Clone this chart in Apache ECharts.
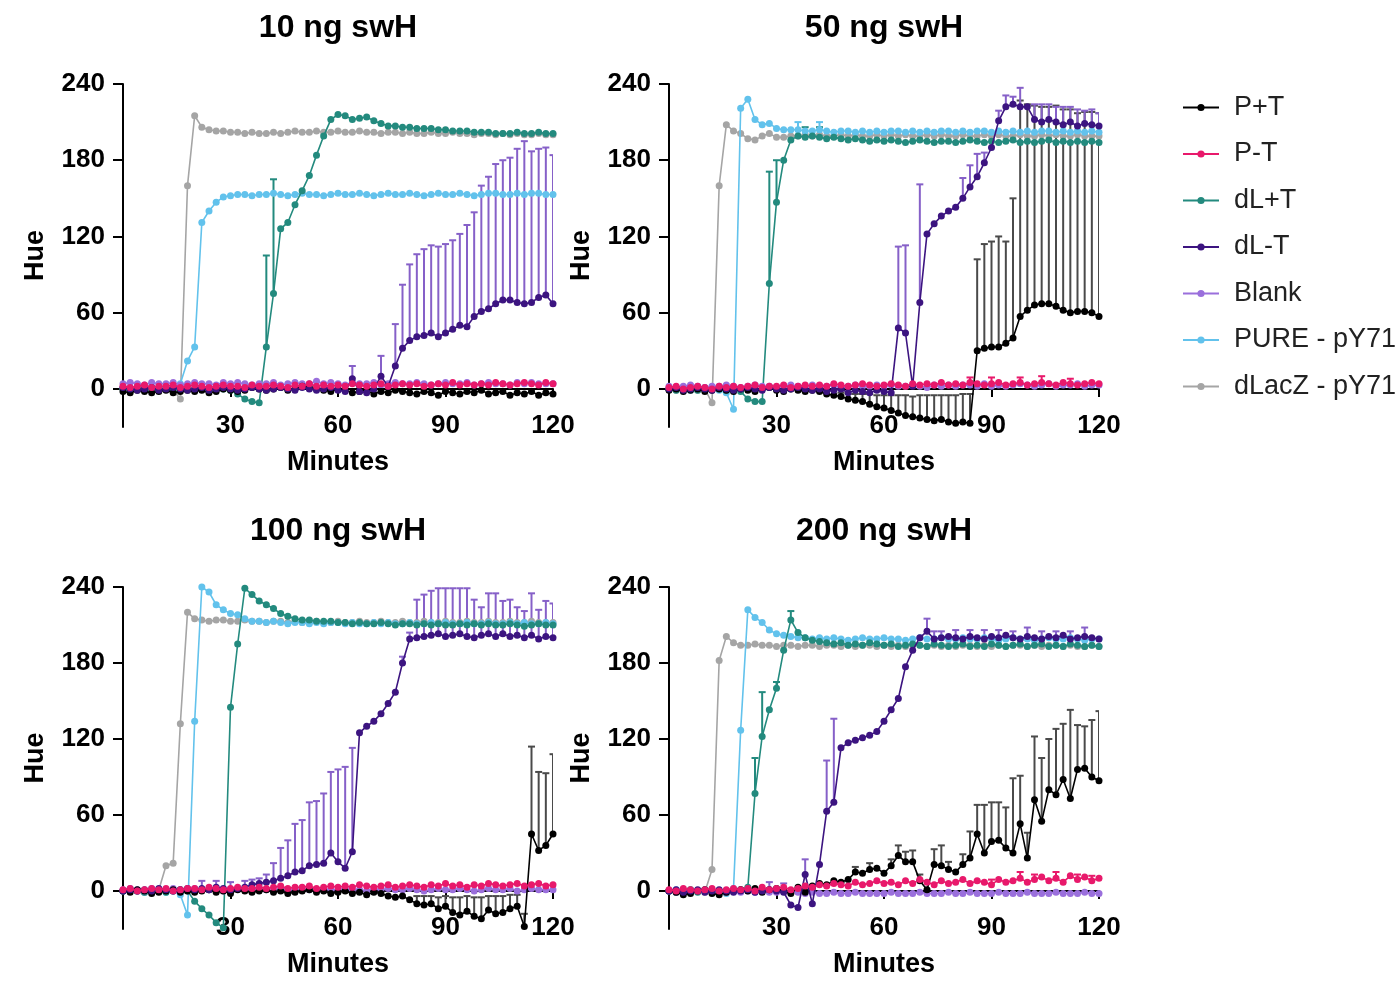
<!DOCTYPE html>
<html><head><meta charset="utf-8">
<script src="https://cdn.jsdelivr.net/npm/echarts@6/dist/echarts.min.js"></script>
<style>html,body{margin:0;padding:0;background:#fff}#c{width:1398px;height:985px}</style>
</head><body><div id="c"></div><script>
// ---------- data ----------
const minutes = [0,2,4,6,8,10,12,14,16,18,20,22,24,26,28,30,32,34,36,38,40,42,44,46,48,50,52,54,56,58,60,62,64,66,68,70,72,74,76,78,80,82,84,86,88,90,92,94,96,98,100,102,104,106,108,110,112,114,116,118,120];
const seriesNames = ['P+T','P-T','dL+T','dL-T','Blank','PURE - pY71','dLacZ - pY71'];
const panelTitles = ['10 ng swH','50 ng swH','100 ng swH','200 ng swH'];
const yTicks = [0,60,120,180,240];
const xTicks = [30,60,90,120];

// 10 ng
const p10_PpT = [-2,-3,-1,-2,-3,-2,-1,-3,-2,-1, -2,-1,-3,-2,0,-1,-2,-1,1,0, -1,0,1,-1,0,2,1,0,-1,-2, 0,-1,-3,-2,-1,-4,-2,-3,-1,-2, -3,-4,-2,-3,-5,-2,-3,-4,-2,-3, -1,-4,-3,-2,-5,-3,-4,-2,-5,-3, -4];
const p10_PmT = [2,1,2,3,1,2,2,3,1,2, 3,2,1,2,3,2,2,1,3,2, 2,3,2,1,3,2,4,2,3,2, 3,2,4,3,2,3,4,2,3,4, 3,4,2,3,4,3,5,3,4,3, 4,3,5,4,3,4,5,4,3,5, 4];
const p10_dLpT = [0,-1,0,1,-1,0,0,-1,1,0, 0,1,-1,0,0,-1,-4,-8,-10,-11, 33,75,126,131,145,156,168,184,199,212, 216,215,212,213,214,211,209,207,207,206, 206,205,205,205,204,204,203,203,203,202, 202,202,201,201,201,202,201,201,202,201, 201];
const p10_dLmT = [1,0,-1,0,1,-1,0,1,0,-1, 0,1,-1,0,1,0,-1,0,1,0, -1,0,1,0,-1,1,0,-1,0,1, -1,-2,8,-2,-3,0,10,2,18,32, 38,41,42,44,41,44,47,50,49,57, 61,63,67,70,70,68,67,68,72,74, 67];
const p10_Blank = [4,5,4,3,5,4,4,5,3,4, 5,4,4,3,5,4,5,4,3,4, 4,5,3,4,5,4,4,6,4,5, 4,3,5,4,4,5,3,4,5,4, 4,5,4,3,4,5,4,4,5,3, 4,5,4,4,3,5,4,5,4,4, 4];
const p10_Pure = [1,0,1,2,1,0,1,1,4,22, 33,131,140,147,151,152,153,153,152,153, 153,154,153,152,153,154,153,153,152,153, 154,153,153,154,153,152,153,154,153,153, 154,153,152,153,154,153,153,154,153,152, 153,154,154,153,153,154,153,154,154,153, 153];
const p10_dLacZ = [0,1,0,-1,0,1,0,-1,-8,160, 215,206,204,203,203,202,202,201,202,201, 201,202,201,202,203,202,202,203,202,202, 203,202,202,203,202,202,201,202,202,201, 202,201,201,202,201,201,202,201,201,200, 201,201,200,201,200,201,200,200,201,200, 200];
const p10_dLpT_err = [[40,72],[42,90]];
const p10_dLmT_err = [[64,10],[72,16],[76,33],[78,50],[80,60],[82,65],[84,68],[86,69],[88,71],[90,70],[92,70],[94,72],[96,80],[98,82],[100,99],[102,104],[104,110],[106,110],[108,112],[110,121],[112,128],[114,119],[116,117],[118,116],[120,117]];

// 50 ng
const p50_PpT = [-1,0,-2,-1,0,-2,-1,0,-1,-2, 0,-1,-2,0,1,-1,-2,0,-1,-2, -1,-2,-4,-5,-6,-8,-9,-10,-12,-14, -15,-17,-19,-21,-22,-23,-24,-25,-24,-26, -27,-26,-27,30,32,33,33,36,40,57, 62,66,67,67,65,62,60,61,61,60, 57];
const p50_PmT = [1,2,0,1,2,1,0,2,1,2, 1,2,3,1,2,2,3,1,2,3, 2,3,2,4,3,2,3,4,3,2, 3,4,3,2,4,3,4,3,5,3, 4,3,5,4,3,4,5,3,4,5, 3,4,5,4,3,5,4,3,4,5, 4];
const p50_dLpT = [0,-1,1,0,-1,0,1,0,-1,0, -2,-8,-10,-10,83,147,180,196,199,198, 199,198,197,198,197,196,197,196,195,196, 195,196,195,194,195,196,195,194,195,195, 194,195,196,195,194,195,194,195,196,194, 195,194,195,196,194,195,194,195,194,195, 194];
const p50_dLmT = [0,1,-1,0,1,0,-1,1,0,-1, 0,1,0,-1,1,0,-1,0,1,0, -1,0,-2,-1,0,-3,-1,-2,-3,-1, -2,-3,48,44,2,68,122,130,136,140, 143,150,159,167,178,190,211,222,224,222, 222,212,210,212,210,208,210,207,209,208, 207];
const p50_Blank = [2,1,2,3,2,1,2,2,3,2, 1,2,3,2,2,1,2,3,2,2, 3,2,2,3,1,2,3,2,2,3, 2,3,2,2,3,2,1,3,2,3, 2,3,3,2,4,2,3,2,3,4, 3,2,3,4,2,3,3,4,2,3, 3];
const p50_Pure = [0,1,0,-1,0,1,0,-1,-3,-16, 221,228,212,208,209,205,204,204,204,203, 203,204,203,202,203,203,202,203,202,203, 202,203,203,202,203,202,203,202,203,203, 202,203,202,203,203,202,203,202,203,202, 203,202,203,203,202,203,202,203,202,203, 202];
const p50_dLacZ = [0,-1,1,0,-1,0,-11,160,208,203, 201,197,196,199,201,198,198,199,199,200, 199,200,199,199,200,199,200,199,199,200, 199,200,199,200,199,199,200,199,200,199, 199,200,199,199,200,199,200,199,199,200, 199,199,200,199,200,199,199,200,199,199, 199];
const p50_PpT_err = [[48,3],[50,4],[52,5],[54,6],[56,8],[58,9],[60,10],[62,12],[64,14],[66,16],[68,16],[70,18],[72,19],[74,20],[76,19],[78,21],[80,22],[82,22],[84,23],[86,72],[88,82],[90,83],[92,87],[94,80],[96,110],[98,170],[100,162],[102,157],[104,155],[106,155],[108,158],[110,158],[112,160],[114,156],[116,157],[118,158],[120,160]];
const p50_PmT_err = [[84,4],[90,5],[98,4],[104,5],[112,4]];
const p50_dLpT_err = [[28,88],[30,33],[38,8],[42,8]];
const p50_dLmT_err = [[64,64],[66,69],[70,93],[82,16],[84,17],[86,18],[88,8],[92,8],[94,9],[96,6],[98,15],[102,12],[104,14],[106,12],[108,12],[110,14],[112,12],[114,13],[116,10],[118,12],[120,10]];
const p50_Pure_err = [[36,6],[42,6]];

// 100 ng
const p100_PpT = [0,-1,1,0,-2,-1,0,1,-1,0, -1,0,1,-1,0,-2,1,0,-1,0, 1,-1,0,-2,-1,0,1,-1,0,-2, -1,0,-2,-1,-3,-1,-2,-4,-5,-4, -7,-10,-11,-10,-14,-12,-17,-19,-16,-20, -22,-15,-18,-17,-14,-12,-28,45,32,36, 45];
const p100_PmT = [1,2,0,1,2,1,2,0,1,2, 2,1,3,2,1,2,3,2,2,3, 2,3,4,2,3,3,4,2,3,4, 3,4,3,5,4,3,4,5,3,4, 5,4,3,5,4,6,4,5,3,5, 4,6,5,4,5,6,4,5,6,4, 5];
const p100_dLpT = [0,1,0,-1,0,1,-1,0,1,0, -8,-14,-19,-25,-29,145,195,239,234,229, 226,223,219,217,215,214,214,213,213,213, 212,212,211,212,211,211,212,211,210,211, 211,210,211,210,211,210,210,211,210,211, 210,211,210,210,211,210,209,210,211,210, 210];
const p100_dLmT = [0,1,0,1,0,2,1,0,1,2, 1,2,1,3,2,1,2,3,5,6, 7,8,10,12,15,16,20,21,22,30, 23,18,31,125,130,134,140,148,157,180, 199,200,201,202,203,201,202,203,201,200, 202,203,201,203,201,202,200,202,199,201, 200];
const p100_Blank = [1,2,1,0,2,1,1,2,0,1, 2,1,1,2,0,1,2,1,1,2, 1,0,2,1,1,2,1,0,2,1, 1,2,1,1,0,2,1,2,1,1, 2,1,0,1,2,1,1,2,1,0, 1,2,1,1,2,0,1,2,1,1, 1];
const p100_Pure = [0,1,0,-1,1,0,-1,0,-3,-19, 134,240,236,226,222,219,218,215,213,213, 212,213,212,211,212,212,211,212,211,212, 212,211,212,211,211,212,211,212,211,211, 212,211,211,212,211,212,211,211,212,211, 211,212,211,211,212,211,212,211,211,212, 211];
const p100_dLacZ = [0,1,0,-1,0,1,20,22,132,220, 215,214,213,214,214,213,213,214,213,213, 212,213,213,212,213,212,212,213,212,212, 213,212,212,213,212,212,213,212,212,213, 212,212,213,212,212,213,212,212,213,212, 212,213,212,212,213,212,212,213,212,212, 212];
const p100_PpT_err = [[82,6],[84,7],[86,6],[88,9],[90,8],[92,12],[94,14],[96,12],[98,15],[100,17],[102,11],[104,14],[106,13],[108,11],[110,9],[112,10],[114,69],[116,62],[118,57],[120,63]];
const p100_dLmT_err = [[22,6],[26,5],[30,6],[34,5],[36,4],[38,4],[40,6],[42,14],[44,24],[46,28],[48,38],[50,40],[52,50],[54,50],[56,55],[58,64],[60,73],[62,80],[64,82],[78,5],[80,5],[82,30],[84,33],[86,35],[88,36],[90,38],[92,37],[94,36],[96,38],[98,30],[100,22],[102,32],[104,34],[106,26],[108,29],[110,22],[112,21],[114,33],[116,23],[118,28],[120,27]];

// 200 ng
const p200_PpT = [0,-1,-3,-2,0,1,-2,-3,-1,0, 1,0,2,-1,1,2,0,-2,3,-1, 4,6,5,8,7,9,15,14,17,18, 14,20,28,23,23,8,1,21,20,17, 15,21,26,45,30,39,40,34,30,53, 26,72,55,80,76,88,73,96,97,90, 87];
const p200_PmT = [1,0,2,1,0,1,2,0,1,2, 1,2,0,3,1,2,3,1,2,4, 3,5,4,6,5,4,7,5,6,8, 6,7,5,8,6,9,7,5,8,6, 7,9,6,8,7,5,9,7,8,10, 7,9,11,8,10,7,12,9,11,8, 10];
const p200_dLpT = [0,-1,0,1,-1,0,1,0,-1,0, 1,3,77,122,143,160,190,214,204,200, 198,197,196,195,196,194,195,194,196,195, 194,195,193,194,195,194,193,195,194,193, 194,195,193,194,193,195,194,193,194,195, 193,194,195,193,194,193,195,194,193,194, 193];
const p200_dLmT = [0,1,-1,0,1,-1,0,1,0,-1, 0,1,-1,0,1,0,-1,-11,-13,13, -10,21,63,70,113,117,119,121,123,126, 134,143,152,177,190,200,205,199,200,201, 200,199,201,200,199,201,200,202,200,199, 201,200,199,201,200,202,199,200,201,200, 199];
const p200_Blank = [0,-1,0,-1,0,0,-1,0,-1,0, -1,0,-1,0,-1,-1,0,-1,-1,-2, -1,-2,-2,-1,-2,-2,-1,-2,-2,-2, -2,-1,-2,-2,-2,-1,-2,-2,-2,-1, -2,-2,-1,-2,-2,-2,-1,-2,-2,-2, -1,-2,-2,-2,-1,-2,-2,-2,-1,-2, -2];
const p200_Pure = [0,1,0,-1,0,1,0,-1,-2,2, 127,222,216,212,206,203,202,201,200,200, 199,200,199,200,199,198,199,200,199,199, 200,199,199,198,199,200,199,199,200,199, 199,200,199,199,200,199,198,199,200,199, 199,198,199,200,199,199,200,199,198,199, 199];
const p200_dLacZ = [0,-1,0,1,0,-1,17,182,201,196, 194,194,195,194,194,193,194,194,193,194, 194,193,194,194,193,194,193,194,194,193, 194,193,194,193,194,194,193,194,193,194, 193,194,194,193,194,193,194,193,194,194, 193,194,193,194,194,193,194,193,193,194, 193];
const p200_PpT_err = [[52,4],[56,5],[62,5],[64,8],[66,8],[68,9],[70,5],[74,12],[76,16],[78,6],[82,8],[84,21],[86,23],[88,38],[90,31],[92,30],[94,32],[96,59],[98,38],[100,20],[102,50],[104,50],[106,40],[108,52],[110,44],[112,70],[114,35],[116,33],[118,45],[120,55]];
const p200_PmT_err = [[90,4],[98,5],[102,4],[108,5],[114,4],[118,4]];
const p200_dLpT_err = [[24,28],[26,35],[30,5],[34,7]];
const p200_dLmT_err = [[28,6],[32,7],[38,12],[44,40],[46,66],[72,10],[74,6],[76,5],[80,6],[84,5],[88,7],[92,6],[96,5],[100,7],[104,6],[108,5],[112,6],[116,7]];

// ---------- styling ----------
const FONT = '"Liberation Sans", Arial, sans-serif';
const colors = ['#000000','#e8196b','#238a7e','#3c1480','#9a6fdc','#62c2ec','#a5a5a5'];
const errColors = ['#4a4a4a','#e8196b','#238a7e','#8660c8','#9a6fdc','#62c2ec','#a5a5a5'];
const zOrder = [6,8,4,7,5,3,2];

const panels = [
  {left:123, top:84, height:343, vals:[p10_PpT,p10_PmT,p10_dLpT,p10_dLmT,p10_Blank,p10_Pure,p10_dLacZ], errs:[null,null,p10_dLpT_err,p10_dLmT_err,null,null,null]},
  {left:669, top:84, height:343, vals:[p50_PpT,p50_PmT,p50_dLpT,p50_dLmT,p50_Blank,p50_Pure,p50_dLacZ], errs:[p50_PpT_err,p50_PmT_err,p50_dLpT_err,p50_dLmT_err,null,p50_Pure_err,null]},
  {left:123, top:587, height:342, vals:[p100_PpT,p100_PmT,p100_dLpT,p100_dLmT,p100_Blank,p100_Pure,p100_dLacZ], errs:[p100_PpT_err,null,null,p100_dLmT_err,null,null,null]},
  {left:669, top:587, height:342, vals:[p200_PpT,p200_PmT,p200_dLpT,p200_dLmT,p200_Blank,p200_Pure,p200_dLacZ], errs:[p200_PpT_err,p200_PmT_err,p200_dLpT_err,p200_dLmT_err,null,null,null]}
];

const grids = [], xAxes = [], yAxes = [], series = [], graphics = [];
panels.forEach((p, pi) => {
  grids.push({left:p.left, top:p.top, width:430, height:p.height});
  xAxes.push({
    gridIndex:pi, type:'value', min:0, max:120,
    axisLine:{show:true, onZero:true, lineStyle:{color:'#000', width:2}},
    axisTick:{show:true, length:8, customValues:xTicks, lineStyle:{color:'#000', width:2}},
    axisLabel:{customValues:xTicks, fontSize:26, fontWeight:'bold', color:'#000', fontFamily:FONT, margin:-14},
    splitLine:{show:false}
  });
  yAxes.push({
    gridIndex:pi, type:'value', min:-30, max:240,
    axisLine:{show:true, onZero:false, lineStyle:{color:'#000', width:2}},
    axisTick:{show:true, length:10, customValues:yTicks, lineStyle:{color:'#000', width:2}},
    axisLabel:{customValues:yTicks, fontSize:26, fontWeight:'bold', color:'#000', fontFamily:FONT, margin:18},
    splitLine:{show:false}
  });
  p.vals.forEach((vals, si) => {
    const err = p.errs[si];
    if (err) {
      const col = errColors[si];
      series.push({
        type:'custom', name:'err', xAxisIndex:pi, yAxisIndex:pi, z:1, silent:true, clip:true,
        data: err.map(([m, e]) => { const v = vals[minutes.indexOf(m)]; return [m, v, v + e]; }),
        encode:{x:0, y:[1,2]},
        renderItem: (params, api) => {
          const a = api.coord([api.value(0), api.value(1)]);
          const b = api.coord([api.value(0), api.value(2)]);
          return {type:'group', children:[
            {type:'line', shape:{x1:a[0], y1:a[1], x2:b[0], y2:b[1]}, style:{stroke:col, lineWidth:2}},
            {type:'line', shape:{x1:b[0]-3.5, y1:b[1], x2:b[0]+3.5, y2:b[1]}, style:{stroke:col, lineWidth:2}}
          ]};
        }
      });
    }
    series.push({
      type:'line', name:seriesNames[si], xAxisIndex:pi, yAxisIndex:pi,
      data: minutes.map((m, k) => [m, vals[k]]),
      symbol:'circle', symbolSize: 7, showSymbol:true,
      lineStyle:{width:1.6, color:colors[si]}, itemStyle:{color:colors[si]},
      z: zOrder[si] + 2, emphasis:{disabled:true}, silent:true
    });
  });
  const cx = p.left + 215;
  const titleY = p.top - 56;
  graphics.push({type:'text', x:cx, y:titleY, style:{text:panelTitles[pi], font:'bold 32px ' + FONT, fill:'#000', textAlign:'center', textVerticalAlign:'middle'}});
  graphics.push({type:'text', x:cx, y:p.top + p.height + 36, style:{text:'Minutes', font:'bold 27px ' + FONT, fill:'#000', textAlign:'center', textVerticalAlign:'middle'}});
  graphics.push({type:'text', x:p.left - 87, y:p.top + p.height / 2, rotation:Math.PI / 2, style:{text:'Hue', font:'bold 27px ' + FONT, fill:'#000', textAlign:'center', textVerticalAlign:'middle'}});
});

const chart = echarts.init(document.getElementById('c'), null, {renderer:'canvas'});
chart.setOption({
  backgroundColor:'#fff',
  animation:false,
  grid:grids, xAxis:xAxes, yAxis:yAxes, series:series, graphic:graphics,
  legend:{
    data:seriesNames, orient:'vertical', left:1177, top:89, itemWidth:36, itemHeight:9, itemGap:19.5,
    selectedMode:false,
    textStyle:{fontSize:27, color:'#222', fontFamily:FONT, lineHeight:27, padding:[0,0,0,10]}
  }
});
</script></body></html>
